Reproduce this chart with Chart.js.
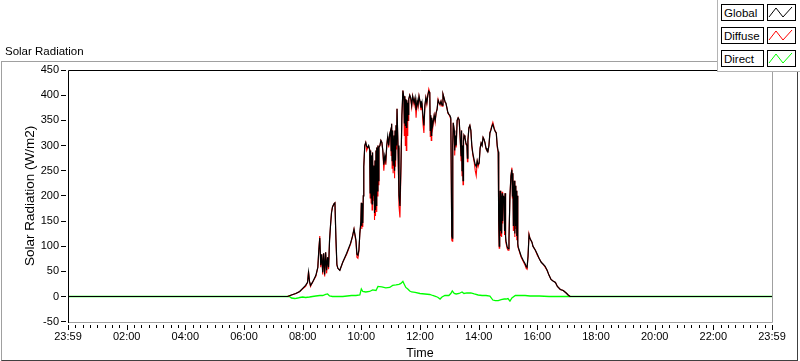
<!DOCTYPE html>
<html><head><meta charset="utf-8">
<script src="https://cdn.jsdelivr.net/npm/chart.js@4.4.0/dist/chart.umd.min.js"></script>
<style>
html,body{margin:0;padding:0;background:#fff;}
#wrap{position:relative;width:800px;height:361px;overflow:hidden;font-family:"Liberation Sans",Arial,sans-serif;color:#000;}
#frame{position:absolute;left:1px;top:61px;width:797px;height:300px;box-sizing:border-box;border-top:1px solid #a0a0a0;border-left:1px solid #a0a0a0;border-right:1px solid #404040;border-bottom:1px solid #404040;}
#c{position:absolute;left:0;top:0;}
#title{position:absolute;left:5px;top:45px;font-size:11.5px;line-height:12px;white-space:nowrap;}
#legend{position:absolute;left:717px;top:0;width:83px;height:72px;box-sizing:border-box;background:#fff;border-left:1px solid #b4b4b4;border-bottom:1px solid #b4b4b4;}
.lbl{position:absolute;left:3px;width:43px;height:17px;box-sizing:border-box;border:1px solid #000;font-size:11.5px;line-height:17px;padding-left:2px;white-space:nowrap;}
.sw{position:absolute;left:49px;width:29px;height:17px;box-sizing:border-box;border:1px solid #000;}
.sw svg{position:absolute;left:0;top:0;}
</style></head>
<body>
<div id="wrap">
  <div id="frame"></div>
  <canvas id="c" width="800" height="361" style="width:800px;height:361px"></canvas>
  <div id="title">Solar Radiation</div>
  <div id="legend"></div>
</div>
<script>
const chartTitle = 'Solar Radiation';
const xAxisTitle = 'Time';
const yAxisTitle = 'Solar Radiation (W/m2)';
const seriesNames = ['Global', 'Diffuse', 'Direct'];
const seriesColors = ['#000000', '#ff0000', '#00ff00'];
const xTickLabels = ['23:59','02:00','04:00','06:00','08:00','10:00','12:00','14:00','16:00','18:00','20:00','22:00','23:59'];

// minutes of the day
const globalTimes = [0,449,457,466,474,480,486,490,492,494,496,500,507,511,513,515,517,519,521,523,525,527,529,531,533,535,537,539,541,544,546,548,550,552,556,562,570,578,582,585,589,591,593,595,597,
599,600,601,602,603,604,605,607,609,611,613,615,617,618,619,620,621,622,623,624,626,627,628,629,630,631,632,633,634,635,636,638,640,642,644,646,648,650,652,654,656,658,660,661,662,663,664,665,667,668,669,670,671,672,673,675,677,679,681,683,685,687,688,689,690,691,692,693,694,695,696,697,699,701,703,705,708,710,712,714,716,718,720,722,724,726,728,730,732,734,736,738,
740,741,742,743,744,746,749,751,753,755,757,759,761,763,765,767,769,771,773,775,777,779,781,783,785,786,787,788,790,791,792,794,796,798,800,802,804,805,806,807,808,809,810,812,814,816,817,818,820,822,824,826,828,831,833,835,837,839,841,843,845,847,849,851,853,855,857,859,861,863,865,867,869,872,874,876,878,880,881,882,883,884,885,886,887,888,889,890,891,892,893,894,895,896,898,900,902,904,906,908,909,910,911,913,914,915,916,917,918,919,920,921,923,925,927,931,935,937,939,941,943,945,949,951,956,960,964,968,972,976,980,984,988,992,997,1001,1007,1013,1019,1023,1027,1440];

const globalVals = [0,0,3,6,10,16,22,28,48,30,22,28,42,58,92,116,62,84,48,86,44,88,52,78,58,112,142,166,178,184,186,118,64,56,52,68,86,106,120,134,112,84,82,92,126,
150,186,140,184,146,200,258,300,306,298,296,300,292,206,290,196,280,184,286,200,260,166,270,172,290,180,296,210,300,230,296,300,310,306,290,262,280,270,300,318,300,322,330,290,343,270,330,260,320,250,330,270,340,300,373,300,200,180,260,360,409,395,345,398,340,392,336,390,350,385,362,392,400,395,380,398,385,395,370,390,380,398,388,375,385,360,340,380,395,385,400,408,
405,330,360,320,355,340,360,350,365,372,390,385,382,388,380,402,395,388,384,375,366,362,360,355,120,116,300,345,330,290,320,300,350,355,352,320,280,330,250,300,230,310,320,315,305,300,275,310,335,340,330,300,285,270,262,258,270,262,265,295,305,300,316,312,305,295,290,288,300,325,330,338,342,332,328,325,300,288,150,100,160,210,130,200,125,205,150,200,190,198,130,205,120,110,100,95,115,200,240,252,200,245,140,230,125,220,140,210,120,200,105,98,92,86,80,72,65,60,58,80,122,115,108,100,92,84,75,68,64,60,52,42,34,31,28,20,14,12,7,3,0,0];

const diffuseVals = [0,0,3,6,10,15,20,28,50,30,20,28,40,58,92,120,58,84,44,86,40,88,46,78,54,112,140,168,178,184,186,112,62,56,52,68,84,104,120,134,108,78,76,90,126,
144,186,134,184,138,200,258,300,306,290,296,298,292,196,290,186,280,172,286,190,260,152,270,160,290,168,296,200,300,222,296,300,310,306,288,250,278,262,300,318,296,322,330,280,343,255,330,245,320,235,330,258,340,292,373,296,180,157,250,360,409,395,320,398,300,392,290,390,320,385,350,392,400,392,376,398,380,395,355,390,376,398,386,370,385,345,325,378,395,382,400,412,
405,318,360,310,355,334,360,346,365,372,392,385,380,388,378,402,395,386,384,375,364,362,358,352,112,110,296,345,330,280,320,296,350,355,350,316,270,330,240,300,222,310,320,315,302,300,268,310,335,340,330,298,282,266,250,240,268,258,265,295,305,300,316,312,305,293,290,288,300,325,332,340,346,334,328,325,296,286,140,96,160,210,120,200,118,208,145,200,190,198,122,205,112,106,96,92,115,200,240,256,196,245,130,230,118,220,134,210,112,200,100,96,90,84,78,70,62,56,54,80,124,115,108,100,92,82,75,68,64,58,52,42,34,31,28,20,14,12,7,3,0,0];

const directTimes = [0,449,453,457,464,470,474,480,486,494,500,507,515,521,527,531,535,541,552,562,580,589,597,600,603,609,617,623,630,634,642,650,658,664,671,677,681,685,688,691,695,699,703,710,720,730,740,746,753,757,761,765,771,779,783,786,790,794,800,806,810,816,824,831,839,847,855,863,869,874,880,886,892,896,900,904,908,915,925,935,945,964,984,1027,1440];
const directVals = [0,0,0,-3,-4,-3,-2,-1,-2,-1,0,1,2,2,4,5,1,0,0,0,2,2,3,15,10,9,10,13,12,20,19,17,18,22,23,24,26,30,24,18,15,11,9,8,6,5,4,2,0,-2,-5,-1,2,2,6,11,6,5,6,9,6,7,7,5,3,2,2,1,-7,-8,-8,-6,-5,-5,-4,-9,-3,2,2,2,1,1,0,0,0];

const xMajorStep = 120;
const xMinorDivisions = 8;
const yStep = 50;

// legend
const legendEl = document.getElementById('legend');
seriesNames.forEach((name, i) => {
  const top = 4 + i * 23;
  const lbl = document.createElement('div');
  lbl.className = 'lbl'; lbl.style.top = top + 'px'; lbl.textContent = name;
  const sw = document.createElement('div');
  sw.className = 'sw'; sw.style.top = top + 'px';
  sw.innerHTML = '<svg width="27" height="15" viewBox="0 0 27 15"><polyline points="1,12 8,3 15,12 24,2" fill="none" stroke="' + seriesColors[i] + '" stroke-width="1"/></svg>';
  legendEl.appendChild(lbl); legendEl.appendChild(sw);
});
document.getElementById('title').textContent = chartTitle;

const FONT = '"Liberation Sans", Arial, sans-serif';
const pts = (ts, vs) => ts.map((t, i) => ({x: t, y: vs[i]}));

const framePlugin = {
  id: 'frame',
  afterDraw(chart) {
    const {ctx, chartArea: a, scales: {x, y}} = chart;
    const L = Math.round(a.left), R = Math.round(a.right), T = Math.round(a.top), B = Math.round(a.bottom);
    ctx.save();
    ctx.lineWidth = 1;
    ctx.strokeStyle = '#a0a0a0';
    ctx.beginPath();
    ctx.moveTo(L, B + 0.5);
    ctx.lineTo(R + 0.5, B + 0.5);
    ctx.lineTo(R + 0.5, T);
    ctx.stroke();
    ctx.strokeStyle = '#000';
    ctx.beginPath();
    ctx.moveTo(L + 0.5, B + 1);
    ctx.lineTo(L + 0.5, T + 0.5);
    ctx.lineTo(R + 1, T + 0.5);
    ctx.stroke();
    ctx.beginPath();
    const minor = xMajorStep / xMinorDivisions;
    for (let i = 0; i * minor <= x.max + 1e-6; i++) {
      const px = Math.round(x.getPixelForValue(i * minor)) + 0.5;
      const major = i % xMinorDivisions === 0;
      ctx.moveTo(px, B + 3);
      ctx.lineTo(px, B + (major ? 8 : 6));
    }
    for (let v = y.min; v <= y.max + 1e-6; v += yStep) {
      const py = Math.floor(y.getPixelForValue(v)) + 0.5;
      ctx.moveTo(L - 7, py);
      ctx.lineTo(L - 2, py);
    }
    ctx.stroke();
    ctx.restore();
  }
};

const lineDs = (label, data, color, w) => ({label, data, borderColor: color, borderWidth: w, pointRadius: 0, tension: 0, fill: false});

new Chart(document.getElementById('c').getContext('2d'), {
  type: 'line',
  data: {
    datasets: [
      lineDs(seriesNames[0], pts(globalTimes, globalVals), seriesColors[0], 1.2),
      lineDs(seriesNames[1], pts(globalTimes, diffuseVals), seriesColors[1], 1.1),
      lineDs(seriesNames[2], pts(directTimes, directVals), seriesColors[2], 1.3)
    ]
  },
  options: {
    responsive: false,
    animation: false,
    devicePixelRatio: 1,
    layout: {padding: {top: 70, right: 28, left: 0, bottom: 0}},
    plugins: {legend: {display: false}, tooltip: {enabled: false}, title: {display: false}},
    scales: {
      x: {
        type: 'linear', min: 0, max: 1440,
        afterFit(s) { s.height = 39.33; },
        grid: {display: false, drawTicks: false},
        border: {display: false},
        ticks: {stepSize: xMajorStep, autoSkip: false, maxRotation: 0, padding: 9, color: '#000',
          font: {family: FONT, size: 11},
          callback: (v) => xTickLabels[Math.round(v / xMajorStep)]},
        title: {display: true, text: xAxisTitle, color: '#000', font: {family: FONT, size: 12.5}, padding: {top: 0, bottom: 0}}
      },
      y: {
        min: -50, max: 450,
        afterFit(s) { s.width = 68; },
        grid: {display: false, drawTicks: false},
        border: {display: false},
        ticks: {stepSize: yStep, padding: 9, color: '#000', font: {family: FONT, size: 11}},
        title: {display: true, text: yAxisTitle, color: '#000', font: {family: FONT, size: 13.5}, padding: {top: 22, bottom: 0}}
      }
    }
  },
  plugins: [framePlugin]
});
</script>
</body></html>
